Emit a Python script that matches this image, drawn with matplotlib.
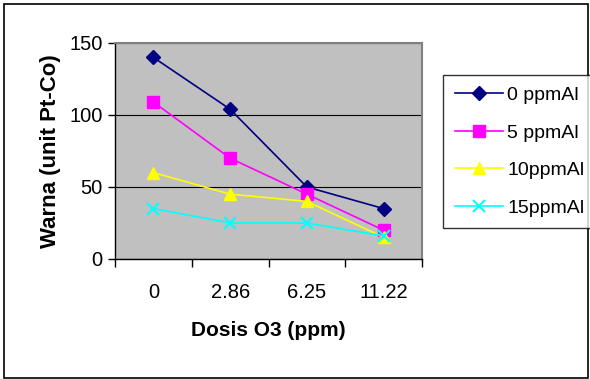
import matplotlib
matplotlib.use("Agg")
import matplotlib.pyplot as plt
from matplotlib.patches import Rectangle

plt.rcParams['font.family'] = ['Liberation Sans', 'DejaVu Sans']

# data
doses = ["0", "2.86", "6.25", "11.22"]
al_0 = [140, 104, 50, 35]
al_5 = [109, 70, 45, 20]
al_10 = [60, 45, 40, 15]
al_15 = [35, 25, 25, 16]
labels = ["0 ppmAl", "5 ppmAl", "10ppmAl", "15ppmAl"]

W, H = 590, 379
fig = plt.figure(figsize=(W / 100, H / 100), dpi=100)

# plot area in pixels: left 115, right 422, top 43, bottom 259
ax = fig.add_axes([115 / W, 1 - 259 / H, (422 - 115) / W, (259 - 43) / H])
ax.set_facecolor("#C0C0C0")

x = list(range(len(doses)))
ax.plot(x, al_0, color="#000080", marker="D", markersize=7, lw=1.2, label=labels[0])
ax.plot(x, al_5, color="#FF00FF", marker="s", markersize=8, lw=1.2, label=labels[1])
ax.plot(x, al_10, color="#FFFF00", marker="^", markersize=9, lw=1.2, label=labels[2])
ax.plot(x, al_15, color="#00FFFF", marker="x", markersize=9, mew=1.5, lw=1.2, label=labels[3])

ax.set_xlim(-0.5, 3.5)
ax.set_ylim(0, 150)
ax.set_yticks([0, 50, 100, 150])
ax.yaxis.grid(True, color="black", lw=0.8)
ax.set_axisbelow(True)

# category axis: ticks between categories, labels centred
ax.set_xticks([-0.5, 0.5, 1.5, 2.5, 3.5])
ax.set_xticklabels([])
ax.set_xticks(x, minor=True)
ax.set_xticklabels(doses, minor=True, fontsize=14.5)
ax.tick_params(axis="x", which="minor", length=0, pad=17)
ax.tick_params(axis="x", which="major", direction="out", length=6, width=1)
ax.tick_params(axis="y", direction="out", length=5, width=1, labelsize=14.5, pad=4)

for s in ["left", "bottom"]:
    ax.spines[s].set_color("black")
    ax.spines[s].set_linewidth(1)
for s in ["top", "right"]:
    ax.spines[s].set_color("#808080")
    ax.spines[s].set_linewidth(1.5)

ax.set_xlabel("Dosis O3 (ppm)", fontsize=15, fontweight="bold", labelpad=14)
ax.set_ylabel("Warna (unit Pt-Co)", fontsize=16, fontweight="bold", labelpad=6)

leg = fig.legend(loc="upper left", bbox_to_anchor=(443 / W, 1 - 75 / H),
                 fontsize=14, frameon=True, fancybox=False, edgecolor="black",
                 handlelength=2.5, labelspacing=1.02, borderpad=0.6,
                 handletextpad=0.2, borderaxespad=0)
leg.get_frame().set_linewidth(1)

# outer chart border
fig.patches.append(Rectangle((4 / W, 1 / H), (W - 6) / W, (H - 5) / H,
                             transform=fig.transFigure, fill=False,
                             edgecolor="black", lw=1.2))

fig.savefig("out.png", dpi=100)
